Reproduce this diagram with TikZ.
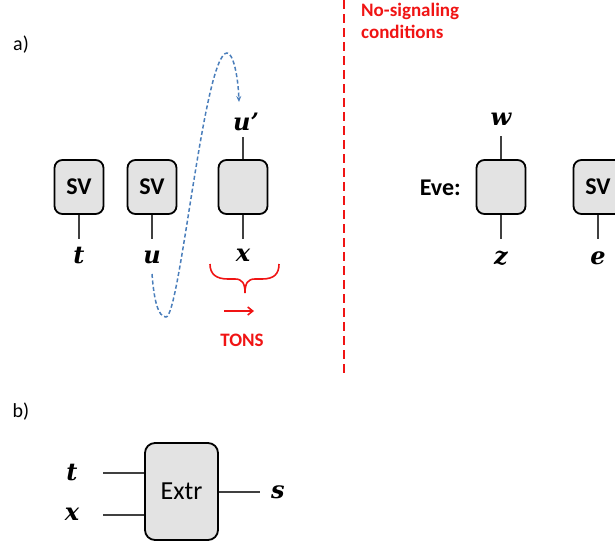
\documentclass[tikz,border=0pt]{standalone}
\usepackage{fontspec}
\setmainfont{Carlito}
\newfontfamily\mlblfont{DejaVu Serif}
\usetikzlibrary{arrows.meta}
\definecolor{boxfill}{RGB}{227,227,227}
\definecolor{stemgray}{RGB}{64,64,64}
\definecolor{curveblue}{RGB}{74,126,187}
\definecolor{sigred}{RGB}{240,20,20}
\newcommand\mv[1]{{\mlblfont\fontsize{24}{26}\selectfont\bfseries\itshape #1}}
\tikzset{
  blackbox/.style={draw=black, line width=1.8pt, fill=boxfill, rounded corners=8pt,
    minimum width=49pt, minimum height=54pt, inner sep=0pt,
    font=\fontsize{24}{26}\selectfont\bfseries},
  extrbox/.style={draw=black, line width=1.8pt, fill=boxfill, rounded corners=10pt,
    minimum width=73pt, minimum height=97pt, inner sep=0pt,
    font=\fontsize{26}{28}\selectfont},
  stem/.style={draw=stemgray, line width=2.8pt},
  lbl/.style={inner sep=0pt, anchor=base},
  panel/.style={inner sep=0pt, font=\fontsize{20}{22}\selectfont},
  redtext/.style={inner sep=0pt, text=sigred, font=\fontsize{19}{22}\selectfont\bfseries, align=left},
}
\begin{document}
\begin{tikzpicture}[x=1pt,y=-1pt]
\useasboundingbox (0,0) rectangle (615,544);
% panel labels
\node[panel] (pa) at (21,45) {a)};
\node[panel] (pb) at (21,412) {b)};
% boxes
\node[blackbox] (sv1) at (79,187) {SV};
\node[blackbox] (sv2) at (152,187) {SV};
\node[blackbox] (bx) at (243,187) {};
\node[blackbox] (eve) at (501,187) {};
\node[blackbox] (sv3) at (598,187) {SV};
% labels
\node[lbl] (t) at (79,263) {\mv{t}};
\node[lbl] (u) at (152,263) {\mv{u}};
\node[lbl] (x) at (243,261) {\mv{x}};
\node[lbl] (up) at (246,130) {\mv{u’}};
\node[lbl] (w) at (501,125) {\mv{w}};
\node[lbl] (z) at (501,264) {\mv{z}};
\node[lbl] (e) at (598,264) {\mv{e}};
\node[inner sep=0pt, anchor=east, font=\fontsize{24}{26}\selectfont\bfseries] (evel) at (461,188) {Eve:};
% stems
\coordinate (t-end) at (79,239);
\coordinate (u-end) at (152,239);
\coordinate (x-end) at (243,239);
\coordinate (up-end) at (243,137);
\coordinate (w-end) at (501,136);
\coordinate (z-end) at (501,239);
\coordinate (e-end) at (598,239);
\draw[stem] (sv1.south) -- (t-end);
\draw[stem] (sv2.south) -- (u-end);
\draw[stem] (bx.south) -- (x-end);
\draw[stem] (bx.north) -- (up-end);
\draw[stem] (eve.north) -- (w-end);
\draw[stem] (eve.south) -- (z-end);
\draw[stem] (sv3.south) -- (e-end);
% blue dashed curve
\coordinate (c0) at (152,274);
\coordinate (c1) at (166,317);
\coordinate (c2) at (227,53);
\coordinate (c3) at (239,102);
\draw[curveblue, line width=1.5pt, dash pattern=on 4pt off 2.5pt, -{Stealth[length=6pt,width=5pt]}]
  (c0) .. controls (154,300) and (158,317) .. (c1)
       .. controls (180,317) and (204,53) .. (c2)
       .. controls (233,53) and (238,75) .. (c3);
% red brace
\coordinate (br-l) at (210,264);
\coordinate (br-r) at (279,264);
\coordinate (br-tip) at (245,293);
\draw[sigred, line width=1.6pt]
  (br-l) .. controls (210,274) and (216,279) .. (228,279) -- (235,279)
  .. controls (242,279) and (245,283) .. (br-tip)
  .. controls (245,283) and (248,279) .. (255,279) -- (262,279)
  .. controls (274,279) and (279,274) .. (br-r);
\coordinate (ar-s) at (224,311);
\coordinate (ar-e) at (254,311);
\draw[sigred, line width=1.6pt, -{Straight Barb[length=5pt,width=8pt]}] (ar-s) -- (ar-e);
\node[redtext] (tons) at (242,340) {TONS};
% red dashed separator
\coordinate (sep-top) at (344,0);
\coordinate (sep-bot) at (344,376);
\draw[sigred, line width=2pt, dash pattern=on 9pt off 5pt] (sep-top) -- (sep-bot);
\node[redtext, anchor=north west, font=\fontsize{19}{22}\selectfont\bfseries] (ns) at (361,3) {No-signaling\\conditions};
% panel b
\node[extrbox] (extr) at (181.5,491.5) {Extr};
\coordinate (tin) at (103,473);
\coordinate (xin) at (103,515);
\coordinate (sout) at (260,492);
\draw[stem] (tin) -- (tin -| extr.west);
\draw[stem] (xin) -- (xin -| extr.west);
\draw[stem] (sout -| extr.east) -- (sout);
\node[lbl] (tb) at (72,480) {\mv{t}};
\node[lbl] (xb) at (72,520) {\mv{x}};
\node[lbl] (sb) at (278,498) {\mv{s}};
\end{tikzpicture}
\end{document}
